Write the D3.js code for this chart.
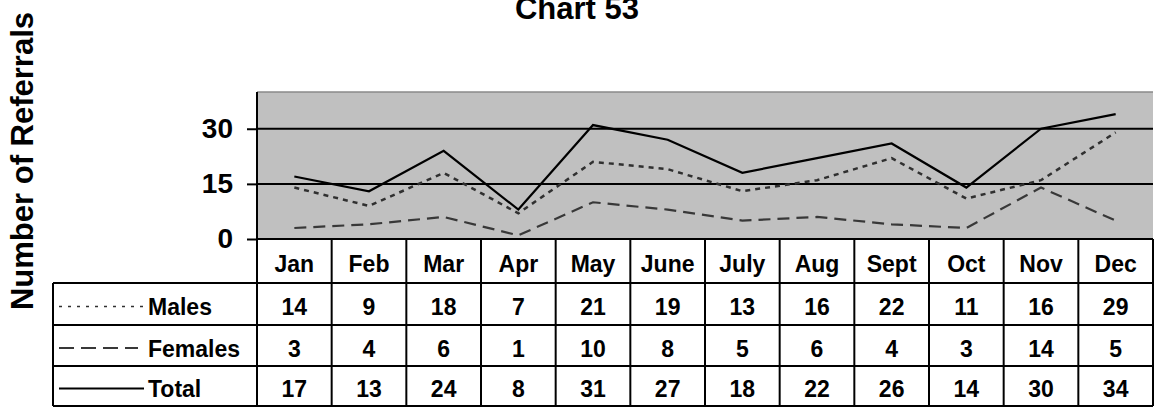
<!DOCTYPE html>
<html>
<head>
<meta charset="utf-8">
<script src="https://cdn.jsdelivr.net/npm/d3@7"></script>
<style>
  body { margin: 0; background: #fff; }
  svg { display: block; font-family: "Liberation Sans", Arial, sans-serif; font-weight: bold; }
</style>
</head>
<body>
<div id="chart"></div>
<script>
// data
var months = ["Jan", "Feb", "Mar", "Apr", "May", "June", "July", "Aug", "Sept", "Oct", "Nov", "Dec"];
var males = [14, 9, 18, 7, 21, 19, 13, 16, 22, 11, 16, 29];
var females = [3, 4, 6, 1, 10, 8, 5, 6, 4, 3, 14, 5];
var total = [17, 13, 24, 8, 31, 27, 18, 22, 26, 14, 30, 34];
var yTicks = [0, 15, 30];

var width = 1154, height = 407;
var plot = { left: 257, right: 1153, top: 92, bottom: 239 },
  legendLeft = 53,
  rowEdges = [239, 283, 325, 366, 406];

var series = [
  { name: "Males", values: males, dash: "5,5", legendDash: "3,6", color: "#303030", width: 2.5, legendWidth: 1.5 },
  { name: "Females", values: females, dash: "12,7", legendDash: "15,7", color: "#383838", width: 2.2, legendWidth: 1.8 },
  { name: "Total", values: total, dash: null, legendDash: null, color: "#000", width: 2.2, legendWidth: 2 }
];

var svg = d3.select("#chart").append("svg")
  .attr("width", width)
  .attr("height", height);

var x = d3.scaleBand()
  .domain(months)
  .range([plot.left, plot.right])
  .padding(0);

var y = d3.scaleLinear()
  .domain([0, 40])
  .range([plot.bottom, plot.top]);

// Title (top is clipped in the original too)
svg.append("text")
  .attr("x", 577)
  .attr("y", 19)
  .attr("text-anchor", "middle")
  .style("font-size", "31px")
  .text("Chart 53");

// y axis title
svg.append("text")
  .attr("transform", "translate(33,161) rotate(-90)")
  .attr("text-anchor", "middle")
  .style("font-size", "31px")
  .text("Number of Referrals");

// plot background
svg.append("rect")
  .attr("x", plot.left)
  .attr("y", plot.top)
  .attr("width", plot.right - plot.left)
  .attr("height", plot.bottom - plot.top)
  .attr("fill", "#c0c0c0");

svg.append("line")
  .attr("x1", plot.left).attr("x2", plot.right)
  .attr("y1", plot.top).attr("y2", plot.top)
  .attr("stroke", "#8a8a8a")
  .attr("stroke-width", 1.5);

// gridlines
svg.append("g")
  .selectAll("line")
  .data(yTicks.filter(d => d > 0))
  .join("line")
  .attr("x1", plot.left).attr("x2", plot.right)
  .attr("y1", d => y(d)).attr("y2", d => y(d))
  .attr("stroke", "#000")
  .attr("stroke-width", 2);

// y axis
var yAxis = d3.axisLeft(y)
  .tickValues(yTicks)
  .tickSize(10)
  .tickPadding(14);

svg.append("g")
  .attr("transform", "translate(" + plot.left + ",0)")
  .call(yAxis)
  .call(g => g.select(".domain").attr("stroke-width", 2).attr("d", "M0," + plot.top + "V" + plot.bottom))
  .call(g => g.selectAll(".tick line").attr("stroke-width", 2))
  .call(g => g.selectAll(".tick text")
    .style("font-size", "28px")
    .style("font-weight", "bold")
    .style("font-family", "'Liberation Sans', Arial, sans-serif")
    .attr("fill", "#000"));

// series lines
var line = d3.line()
  .x((d, i) => x(months[i]) + x.bandwidth() / 2)
  .y(d => y(d));

svg.append("g")
  .selectAll("path")
  .data(series)
  .join("path")
  .attr("d", d => line(d.values))
  .attr("fill", "none")
  .attr("stroke", d => d.color)
  .attr("stroke-width", d => d.width)
  .attr("stroke-dasharray", d => d.dash);

// data table
var table = svg.append("g");

// header row
table.selectAll("text.month")
  .data(months)
  .join("text")
  .attr("class", "month")
  .attr("x", d => x(d) + x.bandwidth() / 2)
  .attr("y", rowEdges[0] + 33)
  .attr("text-anchor", "middle")
  .style("font-size", "23px")
  .text(d => d);

// value rows
series.forEach(function (s, r) {
  var top = rowEdges[r + 1], bottom = rowEdges[r + 2];
  var base = top + (bottom - top) / 2 + 11;
  table.append("g")
    .selectAll("text")
    .data(s.values)
    .join("text")
    .attr("x", (d, i) => x(months[i]) + x.bandwidth() / 2)
    .attr("y", base)
    .attr("text-anchor", "middle")
    .style("font-size", "23px")
    .text(d => d);

  table.append("text")
    .attr("x", 148)
    .attr("y", base)
    .style("font-size", "23px")
    .text(s.name);

  table.append("line")
    .attr("x1", 59)
    .attr("x2", s.name === "Females" ? 138 : 144)
    .attr("y1", base - 8.5)
    .attr("y2", base - 8.5)
    .attr("stroke", s.color)
    .attr("stroke-width", s.legendWidth)
    .attr("stroke-dasharray", s.legendDash);
});

// table grid
var gridColor = "#000";
// horizontal lines
rowEdges.forEach(function (ry, k) {
  table.append("line")
    .attr("x1", k <= 0 ? plot.left : legendLeft)
    .attr("x2", plot.right)
    .attr("y1", ry).attr("y2", ry)
    .attr("stroke", gridColor)
    .attr("stroke-width", 2);
});
// vertical lines
var vx = months.map(m => x(m)).concat([plot.right]);
table.selectAll("line.v")
  .data(vx)
  .join("line")
  .attr("class", "v")
  .attr("x1", d => d).attr("x2", d => d)
  .attr("y1", (d, i) => i === 0 ? plot.top : rowEdges[0])
  .attr("y2", rowEdges[4])
  .attr("stroke", gridColor)
  .attr("stroke-width", 2);
table.append("line")
  .attr("x1", legendLeft).attr("x2", legendLeft)
  .attr("y1", rowEdges[1]).attr("y2", rowEdges[4])
  .attr("stroke", gridColor)
  .attr("stroke-width", 2);
</script>
</body>
</html>
